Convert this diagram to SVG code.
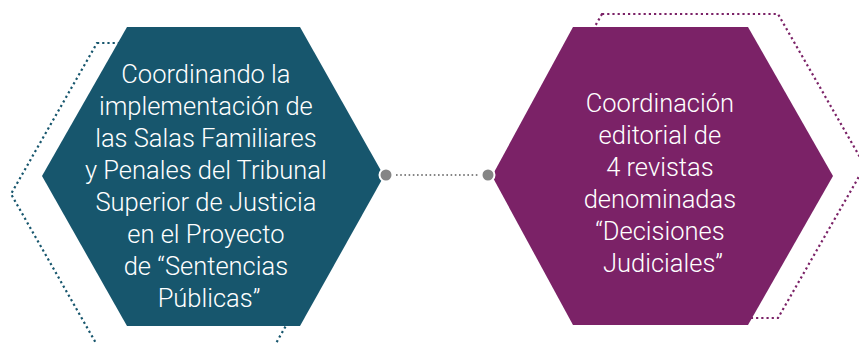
<svg xmlns="http://www.w3.org/2000/svg" width="859" height="344" viewBox="0 0 859 344">
<style>
.outline{fill:none;stroke-width:2.2;stroke-dasharray:2.2 3}
.teal{fill:#17566D}
.plum{fill:#7B2267}
.lbl{font-family:Roboto,"Liberation Sans",sans-serif;font-weight:300;font-size:25.5px;fill:#FFFFFF;text-anchor:middle}
</style>
<rect width="859" height="344" fill="#FFFFFF"/>
<g id="node-left">
<polygon class="outline" stroke="#17566D" points="97,43 275,43 361,194 275,345 97,345 11,194"/>
<polygon class="teal" points="127,27 300,27 384,176 300,326 127,326 42,176"/>
<text class="lbl">
<tspan x="209" y="83">Coordinando la</tspan>
<tspan x="209" y="115">implementación de</tspan>
<tspan x="209" y="147">las Salas Familiares</tspan>
<tspan x="209" y="179">y Penales del Tribunal</tspan>
<tspan x="209" y="211">Superior de Justicia</tspan>
<tspan x="209" y="243">en el Proyecto</tspan>
<tspan x="209" y="275">de “Sentencias</tspan>
<tspan x="209" y="307">Públicas”</tspan>
</text>
</g>
<g id="node-right">
<polygon class="outline" stroke="#7B2267" points="602,14 778,14 865,166 778,318 602,318 515,166"/>
<polygon class="plum" points="573,27 748,27 833,176 748,325 573,325 492,176"/>
<text class="lbl">
<tspan x="663" y="112">Coordinación</tspan>
<tspan x="663" y="144">editorial de</tspan>
<tspan x="663" y="176">4 revistas</tspan>
<tspan x="663" y="208">denominadas</tspan>
<tspan x="663" y="240">“Decisiones</tspan>
<tspan x="663" y="272">Judiciales”</tspan>
</text>
</g>
<g id="connectors">
<line x1="396" y1="175" x2="480" y2="175" stroke="#858585" stroke-width="2" stroke-dasharray="1.6 2.6"/>
<circle cx="386" cy="175" r="6.5" fill="#858585" stroke="#FFFFFF" stroke-width="2"/>
<circle cx="488" cy="175" r="6.5" fill="#858585" stroke="#FFFFFF" stroke-width="2"/>
</g>
</svg>
